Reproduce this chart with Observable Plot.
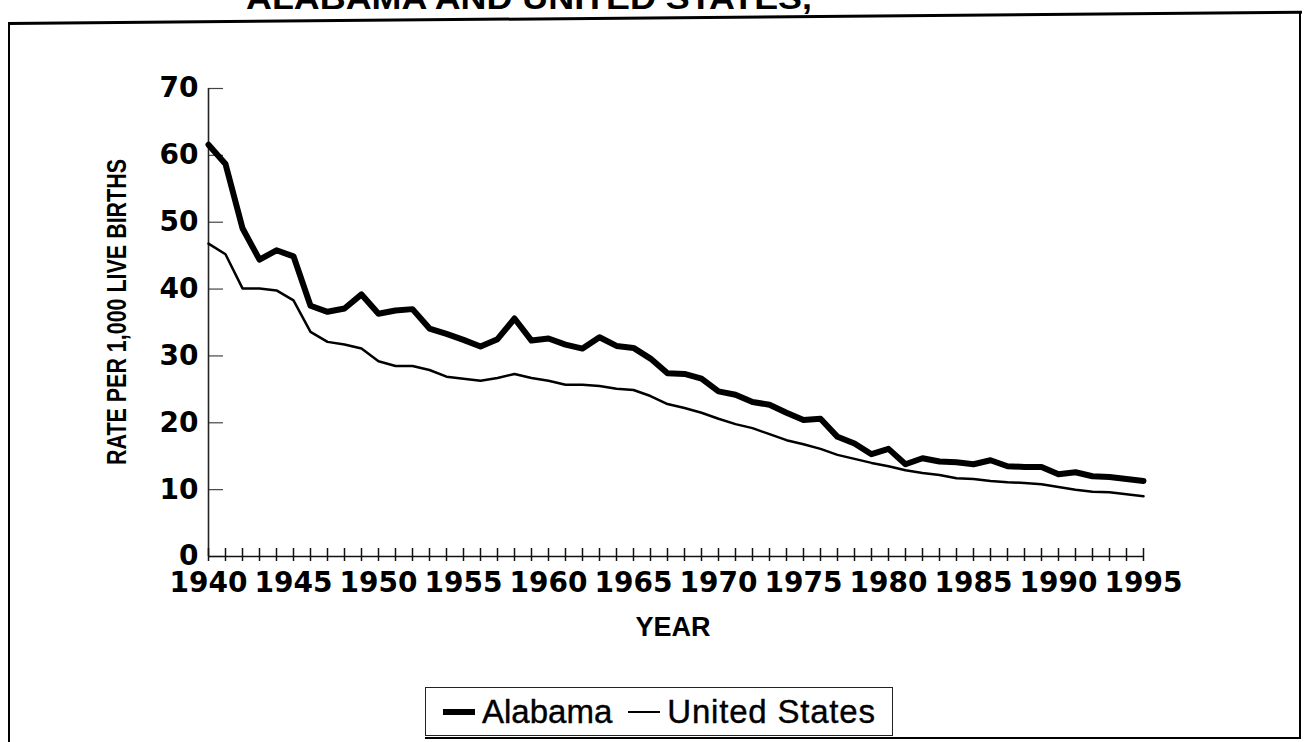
<!DOCTYPE html>
<html><head><meta charset="utf-8">
<script src="https://cdn.jsdelivr.net/npm/d3@7"></script>
<script src="https://cdn.jsdelivr.net/npm/@observablehq/plot@0.6"></script>
<style>
body{margin:0;background:#fff;}
#page{position:relative;width:1306px;height:742px;overflow:hidden;background:#fff;color:#000;font-family:"Liberation Sans",Arial,Helvetica,sans-serif;}
#chart{position:absolute;left:0;top:0;}
.line{position:absolute;background:#000;}
#frameTop{left:8px;top:22px;width:1294px;height:3px;transform-origin:0 0;transform:rotate(-0.5deg);}
#frameLeft{left:8px;top:22px;width:2px;height:740px;}
#frameRight{left:1299px;top:11px;width:2px;height:728px;}
#frameBottom{left:425px;top:737px;width:876px;height:2px;}
#xlabel{position:absolute;left:0;width:1346px;top:612px;text-align:center;font-weight:bold;font-size:27px;}
#legend{position:absolute;left:425px;top:687px;width:468px;height:49px;border:1.5px solid #222;display:flex;align-items:center;box-sizing:border-box;padding-left:17px;font-size:33px;-webkit-text-stroke:0.4px #000;}
.sw{display:inline-block;width:32px;background:#000;margin-right:7px;}
</style></head>
<body>
<div id="page">
  <svg id="title" style="position:absolute;left:0;top:0" width="1306" height="30">
    <text x="246" y="9" font-family="Liberation Sans Narrow, Liberation Sans, Arial, sans-serif" font-weight="bold" font-size="31" textLength="566" lengthAdjust="spacingAndGlyphs">ALABAMA AND UNITED STATES,</text>
  </svg>
  <div class="line" id="frameTop"></div>
  <div class="line" id="frameLeft"></div>
  <div class="line" id="frameRight"></div>
  <div class="line" id="frameBottom"></div>
  <div id="chart"></div>
  <svg id="ytitle" style="position:absolute;left:95px;top:150px" width="40" height="330">
    <text transform="translate(31,315) rotate(-90)" font-family="Liberation Sans Narrow, Liberation Sans, Arial, sans-serif" font-weight="bold" font-size="27" textLength="306" lengthAdjust="spacingAndGlyphs">RATE PER 1,000 LIVE BIRTHS</text>
  </svg>
  <div id="xlabel">YEAR</div>
  <div id="legend">
    <span class="sw" style="height:6px"></span><span>Alabama</span>
    <span class="sw" style="height:2px;margin-left:16px"></span><span style="letter-spacing:0.8px">United States</span>
  </div>
</div>
<script>
const years = [1940,1941,1942,1943,1944,1945,1946,1947,1948,1949,1950,1951,1952,1953,1954,1955,1956,1957,1958,1959,1960,1961,1962,1963,1964,1965,1966,1967,1968,1969,1970,1971,1972,1973,1974,1975,1976,1977,1978,1979,1980,1981,1982,1983,1984,1985,1986,1987,1988,1989,1990,1991,1992,1993,1994,1995];
const alabama = [61.6,58.7,49.1,44.4,45.8,44.9,37.5,36.6,37.1,39.2,36.3,36.8,37.0,34.1,33.3,32.4,31.4,32.5,35.6,32.3,32.6,31.7,31.1,32.8,31.5,31.2,29.6,27.4,27.3,26.6,24.7,24.2,23.1,22.7,21.5,20.4,20.6,17.9,16.9,15.3,16.1,13.8,14.7,14.2,14.1,13.8,14.4,13.5,13.4,13.4,12.3,12.6,12.0,11.9,11.6,11.3];
const unitedStates = [46.8,45.2,40.1,40.1,39.8,38.3,33.6,32.1,31.7,31.1,29.2,28.5,28.5,27.9,26.9,26.6,26.3,26.7,27.3,26.7,26.3,25.7,25.7,25.5,25.1,24.9,24.0,22.8,22.2,21.5,20.6,19.8,19.2,18.3,17.4,16.8,16.1,15.2,14.6,14.0,13.5,12.9,12.5,12.2,11.7,11.6,11.3,11.1,11.0,10.8,10.4,10.0,9.7,9.6,9.3,9.0];
const yTicks = [0,10,20,30,40,50,60,70];
const xTickLabels = [1940,1945,1950,1955,1960,1965,1970,1975,1980,1985,1990,1995];

const alData = years.map((year, i) => ({year, rate: alabama[i]}));
const usData = years.map((year, i) => ({year, rate: unitedStates[i]}));

const tickFont = '"DejaVu Sans", "Liberation Sans", Arial, sans-serif';

const chart = Plot.plot({
  width: 1306,
  height: 660,
  marginLeft: 208,
  marginRight: 163,
  marginTop: 88,
  marginBottom: 104,
  x: {domain: [1940, 1995]},
  y: {domain: [0, 70]},
  style: {fontFamily: tickFont, fontSize: "28px", fontWeight: "bold", color: "#000", background: "transparent", overflow: "visible"},
  marks: [
    Plot.axisY({ticks: yTicks, tickSize: 0, tickPadding: 10, tickFormat: d => String(d), label: null}),
    Plot.axisY({ticks: yTicks, tickSize: 15, dx: 15, fill: "none", label: null, stroke: "#444", strokeWidth: 1.2}),
    Plot.axisX({ticks: xTickLabels, tickSize: 0, tickPadding: 16, tickFormat: d => String(d), label: null}),
    Plot.ruleX([1940], {stroke: "#222", strokeWidth: 1.6}),
    Plot.ruleY([0], {stroke: "#111", strokeWidth: 1.5}),
    Plot.ruleX(years, {x: d => d, y1: 0, y2: 0, insetTop: -8, insetBottom: -5, stroke: "#111", strokeWidth: 1.5}),
    Plot.line(usData, {x: "year", y: "rate", stroke: "#000", strokeWidth: 2.5, strokeLinejoin: "round"}),
    Plot.line(alData, {x: "year", y: "rate", stroke: "#000", strokeWidth: 6, strokeLinejoin: "round"})
  ]
});
document.getElementById("chart").appendChild(chart);
</script>
</body></html>
